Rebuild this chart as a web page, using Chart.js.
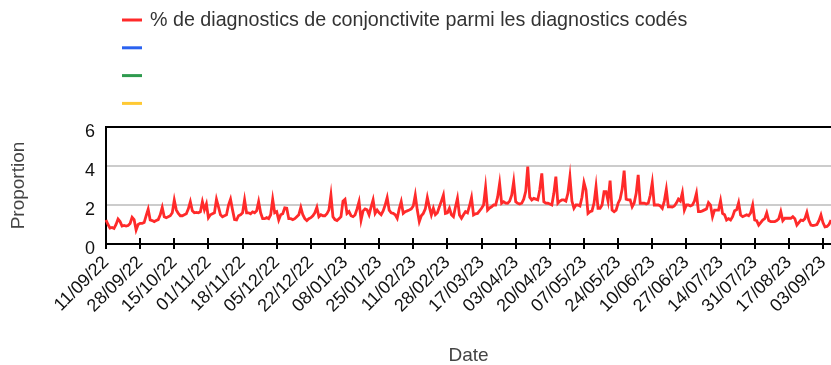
<!DOCTYPE html>
<html>
<head>
<meta charset="utf-8">
<script src="https://cdn.jsdelivr.net/npm/chart.js@4/dist/chart.umd.min.js"></script>
<style>
  html, body { margin: 0; padding: 0; background: #fff; }
  #wrap { width: 831px; height: 365px; position: relative; }
</style>
</head>
<body>
<div id="wrap"><canvas id="conjChart"></canvas></div>
<script>
const startDate = [2022, 8, 11];
const dayCount = 362;

const tickLabels = [
    "11/09/22", "28/09/22", "15/10/22", "01/11/22", "18/11/22", "05/12/22",
    "22/12/22", "08/01/23", "25/01/23", "11/02/23", "28/02/23", "17/03/23",
    "03/04/23", "20/04/23", "07/05/23", "24/05/23", "10/06/23", "27/06/23",
    "14/07/23", "31/07/23", "17/08/23", "03/09/23"
];

const yTicks = [0, 2, 4, 6];

// one row per week, Sunday to Saturday
const conjValues = [
    1.23, 1.00, 0.82, 0.85, 0.80, 1.00, 1.28,
    1.15, 0.92, 0.95, 0.92, 0.95, 1.05, 1.37,
    1.25, 0.72, 1.00, 1.06, 1.06, 1.10, 1.45,
    1.78, 1.23, 1.20, 1.15, 1.20, 1.25, 1.50,
    1.88, 1.40, 1.35, 1.40, 1.45, 1.60, 2.25,
    1.75, 1.57, 1.45, 1.45, 1.50, 1.55, 1.80,
    2.17, 1.70, 1.60, 1.62, 1.60, 1.65, 2.17,
    1.75, 2.05, 1.35, 1.50, 1.55, 1.60, 2.29,
    1.90, 1.50, 1.40, 1.45, 1.50, 2.00, 2.30,
    1.75, 1.25, 1.23, 1.45, 1.50, 1.60, 2.26,
    1.60, 1.60, 1.55, 1.65, 1.60, 1.70, 2.17,
    1.60, 1.30, 1.30, 1.35, 1.30, 1.50, 2.29,
    1.60, 1.66, 1.23, 1.50, 1.55, 1.85, 1.83,
    1.30, 1.30, 1.25, 1.30, 1.40, 1.50, 1.88,
    1.50, 1.30, 1.20, 1.30, 1.35, 1.45, 1.60,
    1.88, 1.40, 1.50, 1.45, 1.45, 1.55, 1.75,
    2.51, 1.40, 1.25, 1.20, 1.30, 1.40, 2.20,
    2.29, 1.57, 1.66, 1.45, 1.40, 1.49, 1.80,
    2.17, 1.23, 1.70, 1.80, 1.75, 1.50, 1.90,
    2.26, 1.57, 1.74, 1.60, 1.50, 1.70, 2.00,
    2.38, 1.74, 1.60, 1.57, 1.50, 1.32, 1.80,
    2.17, 1.57, 1.66, 1.70, 1.74, 1.80, 1.95,
    2.51, 1.74, 1.15, 1.45, 1.57, 1.80, 2.38,
    1.90, 1.49, 1.83, 1.50, 1.60, 1.91, 2.20,
    2.51, 1.57, 1.60, 1.83, 1.50, 1.40, 1.90,
    2.34, 1.49, 1.32, 1.50, 1.66, 1.60, 1.95,
    2.38, 1.49, 1.55, 1.57, 1.70, 1.83, 2.00,
    2.90, 1.74, 1.85, 1.91, 2.00, 2.00, 2.40,
    3.11, 2.09, 2.17, 2.10, 2.09, 2.20, 2.50,
    3.20, 2.17, 2.09, 2.05, 2.09, 2.30, 2.70,
    3.97, 2.40, 2.26, 2.34, 2.30, 2.26, 2.80,
    3.62, 2.17, 2.10, 2.09, 2.05, 2.00, 2.60,
    3.45, 2.09, 2.20, 2.26, 2.26, 2.20, 2.60,
    3.45, 2.20, 1.83, 2.00, 2.00, 1.95, 2.40,
    3.15, 2.77, 1.57, 1.66, 1.70, 2.10, 2.94,
    1.83, 1.83, 2.00, 2.68, 2.68, 2.20, 3.25,
    1.74, 1.66, 1.74, 2.09, 2.30, 2.80, 3.76,
    2.30, 2.26, 2.26, 1.91, 2.10, 2.60, 3.54,
    2.09, 2.09, 2.09, 2.05, 2.09, 2.50, 3.15,
    2.00, 2.00, 2.00, 1.95, 1.83, 2.20, 2.80,
    1.91, 1.91, 1.90, 1.95, 2.10, 2.30, 2.20,
    2.63, 1.74, 2.00, 2.00, 1.95, 2.00, 2.20,
    2.60, 1.66, 1.66, 1.70, 1.75, 1.80, 2.12,
    2.00, 1.40, 1.74, 1.74, 1.74, 2.22, 1.57,
    1.50, 1.23, 1.30, 1.23, 1.40, 1.70, 1.75,
    2.12, 1.49, 1.40, 1.45, 1.50, 1.45, 1.60,
    2.00, 1.23, 1.20, 0.97, 1.10, 1.23, 1.30,
    1.60, 1.20, 1.15, 1.15, 1.15, 1.20, 1.30,
    1.66, 1.20, 1.32, 1.32, 1.32, 1.32, 1.40,
    1.30, 0.97, 1.10, 1.23, 1.20, 1.30, 1.62,
    1.20, 0.97, 0.95, 0.97, 1.00, 1.20, 1.49,
    1.10, 0.88, 0.90, 1.00, 1.23
];

const seriesNames = [
    "% de diagnostics de conjonctivite parmi les diagnostics codés", "", "", ""
];
const seriesColors = ["#ff2a2a", "#2a62f0", "#2e9a4e", "#ffc933"];

// daily labels dd/mm/yy
const pad = n => String(n).padStart(2, "0");
const days = [];
for (let i = 0; i < dayCount; i++) {
    const d = new Date(Date.UTC(startDate[0], startDate[1], startDate[2] + i));
    days.push(pad(d.getUTCDate()) + "/" + pad(d.getUTCMonth() + 1) + "/" + String(d.getUTCFullYear()).slice(2));
}

const FONT = "'Liberation Sans', Arial, sans-serif";

// legend drawn as a single column above the plot
const legendColumn = {
    id: "legendColumn",
    afterDraw(chart) {
        const ctx = chart.ctx;
        ctx.save();
        ctx.font = "19.7px " + FONT;
        ctx.textBaseline = "middle";
        chart.data.datasets.forEach((ds, i) => {
            const y = 20 + i * 27.8;
            ctx.strokeStyle = ds.borderColor;
            ctx.lineWidth = 3;
            ctx.beginPath();
            ctx.moveTo(122, y);
            ctx.lineTo(142, y);
            ctx.stroke();
            ctx.fillStyle = "#333";
            ctx.fillText(ds.label, 150, y + 1);
        });
        ctx.restore();
    }
};

// date ticks also poke a little above the axis line
const tickCross = {
    id: "tickCross",
    afterDraw(chart) {
        const { ctx, chartArea } = chart;
        const x = chart.scales.x;
        ctx.save();
        ctx.strokeStyle = "#000";
        ctx.lineWidth = 2;
        x.ticks.forEach((t, i) => {
            if (t.label === null || t.label === undefined) return;
            const px = Math.round(x.getPixelForTick(i));
            ctx.beginPath();
            ctx.moveTo(px, chartArea.bottom - 6);
            ctx.lineTo(px, chartArea.bottom);
            ctx.stroke();
        });
        ctx.restore();
    }
};

const datasets = seriesNames.map((name, i) => ({
    label: name,
    data: i === 0 ? conjValues : [],
    borderColor: seriesColors[i],
    backgroundColor: seriesColors[i],
    borderWidth: 2.8,
    pointRadius: 0,
    tension: 0
}));

new Chart(document.getElementById("conjChart"), {
    type: "line",
    data: { labels: days, datasets: datasets },
    plugins: [legendColumn, tickCross],
    options: {
        responsive: true,
        maintainAspectRatio: false,
        animation: false,
        layout: { padding: { top: 127, right: 0, bottom: 0, left: 0 } },
        plugins: {
            legend: { display: false },
            tooltip: { enabled: false }
        },
        scales: {
            x: {
                offset: false,
                afterFit: s => {
                    s.height = 121;
                    s.paddingRight = 0;
                },
                border: { display: true, color: "#000", width: 2 },
                grid: {
                    drawOnChartArea: false,
                    drawTicks: true,
                    tickLength: 5,
                    color: "#000",
                    lineWidth: 2
                },
                ticks: {
                    autoSkip: false,
                    maxRotation: 45,
                    minRotation: 45,
                    padding: 3,
                    color: "#111",
                    font: { family: FONT, size: 18 },
                    callback: (v, i) => tickLabels.includes(days[i]) ? days[i] : null
                },
                title: {
                    display: true,
                    text: "Date",
                    color: "#444",
                    font: { family: FONT, size: 19, lineHeight: 1 },
                    padding: { top: 0, bottom: 0 }
                }
            },
            y: {
                min: 0,
                max: 6,
                afterFit: s => { s.width = 106; },
                afterBuildTicks: s => { s.ticks = yTicks.map(v => ({ value: v })); },
                border: { display: true, color: "#000", width: 2 },
                grid: {
                    drawTicks: false,
                    lineWidth: 2,
                    color: c => (c.tick && c.tick.value === 6) ? "#000" : "#cccccc"
                },
                ticks: {
                    padding: 11,
                    labelOffset: 5,
                    color: "#111",
                    font: { family: FONT, size: 18 }
                },
                title: {
                    display: true,
                    text: "Proportion",
                    color: "#444",
                    font: { family: FONT, size: 19, lineHeight: 1 },
                    padding: { top: 9, bottom: 0 }
                }
            }
        }
    }
});
</script>
</body>
</html>
